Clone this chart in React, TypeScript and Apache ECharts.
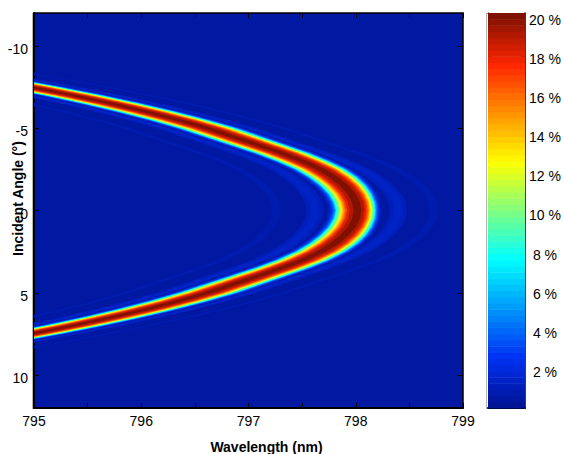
import React, { useEffect, useRef } from "react";
import * as echarts from "echarts";

// Ridge of the resonance: incident angle (deg) -> wavelength (nm)
const ridgeAngles = [-9, -8.5, -8, -7.5, -7, -6.5, -6, -5.5, -5, -4.5, -4, -3.5, -3, -2.5, -2, -1.5, -1, -0.5, 0, 0.5, 1, 1.5, 2, 2.5, 3, 3.5, 4, 4.5, 5, 5.5, 6, 6.5, 7, 7.5, 8, 8.5, 9];
const ridgeWavelengths = [793.6, 794.1, 794.55, 794.97, 795.36, 795.72, 796.05, 796.35, 796.62, 796.85, 797.08, 797.31, 797.51, 797.675, 797.8, 797.896, 797.965, 798.006, 798.02, 798.006, 797.965, 797.896, 797.8, 797.675, 797.51, 797.31, 797.08, 796.85, 796.62, 796.35, 796.05, 795.72, 795.36, 794.97, 794.55, 794.1, 793.6];
// Half width of the main peak at the 8 % level, towards shorter and longer wavelengths (nm)
const innerHalfWidths = [0.25, 0.25, 0.25, 0.25, 0.25, 0.25, 0.25, 0.25, 0.25, 0.245, 0.24, 0.235, 0.23, 0.225, 0.22, 0.215, 0.21, 0.205, 0.2, 0.205, 0.21, 0.215, 0.22, 0.225, 0.23, 0.235, 0.24, 0.245, 0.25, 0.25, 0.25, 0.25, 0.25, 0.25, 0.25, 0.25, 0.25];
const outerHalfWidths = [0.25, 0.25, 0.25, 0.25, 0.25, 0.25, 0.25, 0.25, 0.25, 0.245, 0.24, 0.235, 0.225, 0.215, 0.205, 0.19, 0.175, 0.165, 0.16, 0.165, 0.175, 0.19, 0.205, 0.215, 0.225, 0.235, 0.24, 0.245, 0.25, 0.25, 0.25, 0.25, 0.25, 0.25, 0.25, 0.25, 0.25];
// Main peak: level (%) and width relative to the 8 % half width
const peakLevels = [0.6, 1, 2, 3, 4, 5, 6, 7, 8, 9, 10, 11, 12, 13, 14, 15, 16, 17, 18, 19, 20];
const peakWidths = [1.42, 1.36, 1.27, 1.2, 1.14, 1.09, 1.05, 1.02, 1, 0.95, 0.9, 0.85, 0.8, 0.76, 0.72, 0.67, 0.62, 0.57, 0.5, 0.38, 0.2];
// Side fringes: level (%), offset from the ridge (nm), half width (nm)
const fringeLevels = [0.6, 1, 1.4, 0.6, 1, 1.4, 0.5, 0.8, 0.5, 0.8];
const fringeOffsets = [0.38, 0.38, 0.38, -0.4, -0.4, -0.4, 0.71, 0.71, -0.76, -0.76];
const fringeWidths = [0.11, 0.08, 0.04, 0.11, 0.08, 0.04, 0.08, 0.04, 0.08, 0.04];

const xTicks = [795, 795.5, 796, 796.5, 797, 797.5, 798, 798.5, 799];
const xLabels = [795, 796, 797, 798, 799];
const yTicks = [-10, -5, 0, 5, 10];
const barTicks = [2, 4, 6, 8, 10, 12, 14, 16, 18, 20];
const barMax = 20.2;
const barSteps = 64;
// Colormap stops: position, r, g, b
const mapStops = [
  [0, 0, 20, 150],
  [0.125, 0, 50, 245],
  [0.375, 0, 255, 255],
  [0.625, 255, 255, 0],
  [0.875, 255, 38, 0],
  [1, 128, 16, 0],
];

function stepColor(i: number) {
  const f = i / (barSteps - 1);
  let k = 0;
  while (k < mapStops.length - 2 && f > mapStops[k + 1][0]) k++;
  const a = mapStops[k];
  const b = mapStops[k + 1];
  const t = (f - a[0]) / (b[0] - a[0]);
  const c = [1, 2, 3].map((j) => Math.round(a[j] + (b[j] - a[j]) * t));
  return `rgb(${c[0]},${c[1]},${c[2]})`;
}
const levelColor = (v: number) => stepColor(Math.min(barSteps - 1, Math.floor((v / barMax) * barSteps)));

type Band = { level: number; off: number; w: number; peak: boolean };
const bands: Band[] = [
  ...fringeLevels.map((level, i) => ({ level, off: fringeOffsets[i], w: fringeWidths[i], peak: false })),
  ...peakLevels.map((level, i) => ({ level, off: 0, w: peakWidths[i], peak: true })),
];

const FONT = "Liberation Sans";
const TICK = { show: true, inside: true, length: 5, lineStyle: { color: "#000", width: 1 } };

export default function App() {
  const ref = useRef<HTMLDivElement>(null);
  useEffect(() => {
    document.body.style.margin = "0";
    const chart = echarts.init(ref.current!, null, { renderer: "svg" });
    const mainGrid = { left: 34, top: 13, right: 101, bottom: 46, outerBoundsMode: "none", show: true, backgroundColor: stepColor(1), borderWidth: 0 };
    const barGrid = { left: 488, top: 13, right: 39, bottom: 46, outerBoundsMode: "none", show: false };
    chart.setOption({
      animation: false,
      grid: [mainGrid, barGrid],
      graphic: [
        { type: "rect", shape: { x: 32, y: 13, width: 1, height: 396 }, style: { fill: "#b4b4b4" }, silent: true },
        { type: "rect", shape: { x: 486, y: 13, width: 1, height: 396 }, style: { fill: "#b4b4b4" }, silent: true },
      ],
      xAxis: [
        {
          gridIndex: 0, type: "value", min: 795, max: 799, position: "bottom",
          name: "Wavelength (nm)", nameLocation: "middle", nameGap: 32, nameMoveOverlap: false,
          nameTextStyle: { fontFamily: FONT, fontSize: 14, lineHeight: 14, fontWeight: "bold", color: "#000", padding: [0, 0, 0, 36] },
          axisLine: { show: true, onZero: false, lineStyle: { color: "#000", width: 2 } },
          axisTick: { ...TICK, customValues: xTicks },
          axisLabel: { customValues: xLabels, fontFamily: FONT, fontSize: 14, color: "#000", margin: 6, hideOverlap: false },
          splitLine: { show: false },
        },
        {
          gridIndex: 0, type: "value", min: 795, max: 799, position: "top",
          axisLine: { show: true, onZero: false, lineStyle: { color: "#000", width: 1.5 } },
          axisTick: { ...TICK, customValues: xTicks },
          axisLabel: { show: false }, splitLine: { show: false },
        },
        {
          gridIndex: 1, type: "value", min: 0, max: 1, position: "bottom",
          axisLine: { show: true, onZero: false, lineStyle: { color: "#000", width: 2 } },
          axisTick: { show: false }, axisLabel: { show: false }, splitLine: { show: false },
        },
        {
          gridIndex: 1, type: "value", min: 0, max: 1, position: "top",
          axisLine: { show: true, onZero: false, lineStyle: { color: "#000", width: 1 } },
          axisTick: { show: false }, axisLabel: { show: false }, splitLine: { show: false },
        },
      ],
      yAxis: [
        {
          gridIndex: 0, type: "value", min: -12, max: 12, inverse: true, position: "left",
          name: "Incident Angle (°)", nameLocation: "middle", nameGap: 9, nameRotate: 90, nameMoveOverlap: false,
          nameTextStyle: { fontFamily: FONT, fontSize: 14, lineHeight: 14, fontWeight: "bold", color: "#000", padding: [0, 0, 0, 24] },
          axisLine: { show: true, onZero: false, lineStyle: { color: "#000", width: 2 } },
          axisTick: { ...TICK, customValues: yTicks },
          axisLabel: { customValues: yTicks, fontFamily: FONT, fontSize: 14, color: "#000", margin: 6, verticalAlign: "bottom", padding: [0, 0, -10, 0], hideOverlap: false },
          splitLine: { show: false },
        },
        {
          gridIndex: 0, type: "value", min: -12, max: 12, inverse: true, position: "right",
          axisLine: { show: true, onZero: false, lineStyle: { color: "#000", width: 1.5 } },
          axisTick: { ...TICK, customValues: yTicks },
          axisLabel: { show: false }, splitLine: { show: false },
        },
        {
          gridIndex: 1, type: "value", min: 0, max: barMax, position: "right",
          axisLine: { show: true, onZero: false, lineStyle: { color: "#000", width: 1.5 } },
          axisTick: { ...TICK, length: 4, customValues: barTicks },
          axisLabel: {
            customValues: barTicks, formatter: (v: number) => `${v} %`, fontFamily: FONT, fontSize: 14, color: "#000",
            align: "center", margin: 20, verticalAlign: "bottom", padding: [0, 0, -10, 0], hideOverlap: false,
          },
          splitLine: { show: false },
        },
        {
          gridIndex: 1, type: "value", min: 0, max: barMax, position: "left",
          axisLine: { show: true, onZero: false, lineStyle: { color: "#000", width: 1 } },
          axisTick: { ...TICK, length: 4, customValues: barTicks },
          axisLabel: { show: false }, splitLine: { show: false },
        },
      ],
      series: [
        {
          type: "custom",
          xAxisIndex: 0,
          yAxisIndex: 0,
          clip: true,
          silent: true,
          data: bands.map((b) => [b.level, b.off, b.w]),
          encode: { x: [], y: [] },
          renderItem: (params: any, api: any) => {
            const b = bands[params.dataIndex];
            const hi = ridgeAngles.map((a, i) =>
              api.coord([ridgeWavelengths[i] + (b.peak ? b.w * outerHalfWidths[i] : b.off + b.w), a])
            );
            const lo = ridgeAngles.map((a, i) =>
              api.coord([ridgeWavelengths[i] + (b.peak ? -b.w * innerHalfWidths[i] : b.off - b.w), a])
            );
            return {
              type: "polygon",
              shape: { points: [...hi, ...lo.reverse()] },
              style: { fill: levelColor(b.level) },
            };
          },
        },
        {
          type: "custom",
          xAxisIndex: 2,
          yAxisIndex: 2,
          silent: true,
          data: Array.from({ length: barSteps }, (_, i) => [(i * barMax) / barSteps, ((i + 1) * barMax) / barSteps]),
          encode: { x: [], y: [0, 1] },
          renderItem: (params: any, api: any) => {
            const p0 = api.coord([0, api.value(0)]);
            const p1 = api.coord([1, api.value(1)]);
            return {
              type: "rect",
              shape: { x: p0[0], y: p1[1], width: p1[0] - p0[0], height: p0[1] - p1[1] + 0.5 },
              style: { fill: stepColor(params.dataIndex) },
            };
          },
        },
      ],
    });
    return () => chart.dispose();
  }, []);
  return <div ref={ref} style={{ position: "absolute", left: 0, top: 0, width: 564, height: 454 }} />;
}
